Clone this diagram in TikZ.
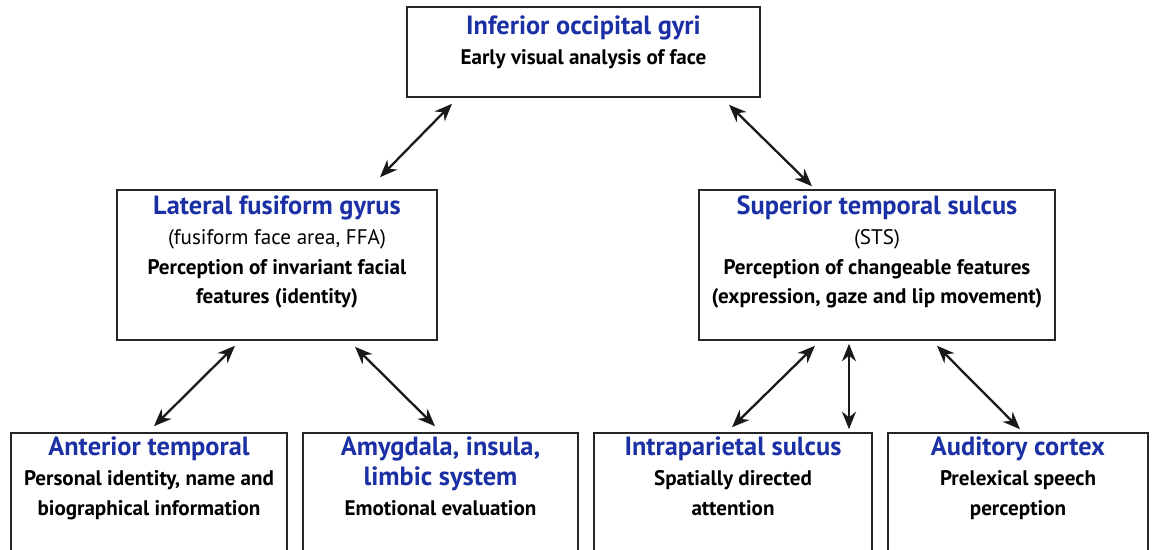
\documentclass[tikz,border=0pt]{standalone}
\usepackage{fontspec}
\setmainfont{PT Sans}
\usetikzlibrary{arrows.meta, calc}
\definecolor{titleblue}{RGB}{28,48,165}
\tikzset{
  region/.style={draw=black!85, line width=0.9pt, fill=white},
  info/.style={align=center, inner sep=0pt, anchor=north,
    font=\bfseries\fontsize{12}{17}\selectfont},
  link/.style={{Stealth[length=10pt,width=8pt]}-{Stealth[length=10pt,width=8pt]},
    line width=1.3pt, black!90},
}
\newcommand{\hd}[1]{{\color{titleblue}\fontsize{15}{17}\selectfont #1}}
\newcommand{\nb}[1]{{\mdseries #1}}

\begin{document}
\begin{tikzpicture}[x=0.02cm, y=-0.02cm]
\clip (0,0) rectangle (1154,550);
% boxes
\node[region, minimum width=7.06cm, minimum height=1.8cm] (top) at (583.5,52) {};
\node[region, minimum width=6.4cm, minimum height=3cm] (lfg) at (277,265) {};
\node[region, minimum width=7.12cm, minimum height=3cm] (sts) at (877,265) {};
\foreach \n/\x/\w in {ant/149/5.52, amy/440.5/5.5, ips/733/5.56, aud/1018/5.2}
  \node[region, minimum width=\w cm, minimum height=2.54cm] (\n) at (\x,496.5) {};
% texts
\node[info] (topT) at ($(top.north)+(0,9)$)
  {\hd{Inferior occipital gyri}\\Early visual analysis of face};
\node[info] (lfgT) at ($(lfg.north)+(0,6)$)
  {\hd{Lateral fusiform gyrus}\\\nb{(fusiform face area, FFA)}\\Perception of invariant facial\\features (identity)};
\node[info] (stsT) at ($(sts.north)+(0,6)$)
  {\hd{Superior temporal sulcus}\\\nb{(STS)}\\Perception of changeable features\\(expression, gaze and lip movement)};
\node[info] (antT) at ($(ant.north)+(0,4)$)
  {\hd{Anterior temporal}\\Personal identity, name and\\biographical information};
\node[info] (amyT) at ($(amy.north)+(0,4)$)
  {\hd{Amygdala, insula,}\\\hd{limbic system}\\Emotional evaluation};
\node[info] (ipsT) at ($(ips.north)+(0,4)$)
  {\hd{Intraparietal sulcus}\\Spatially directed\\attention};
\node[info] (audT) at ($(aud.north)+(0,4)$)
  {\hd{Auditory cortex}\\Prelexical speech\\perception};
% connections
\foreach \a/\p/\b/\q in {top/{-131.5,6}/lfg/{103,-12}, top/{145.5,7}/sts/{-65,-3},
    lfg/{-42,5}/ant/{5,-6}, lfg/{78,6}/amy/{-5.5,-6},
    sts/{-62,5}/ips/{-1,-5}, sts/{-28,3}/ips/{116,-3}, sts/{60,5}/aud/{2,-3}}
  \draw[link] ($(\a.south)+(\p)$) -- ($(\b.north)+(\q)$);
\end{tikzpicture}
\end{document}
